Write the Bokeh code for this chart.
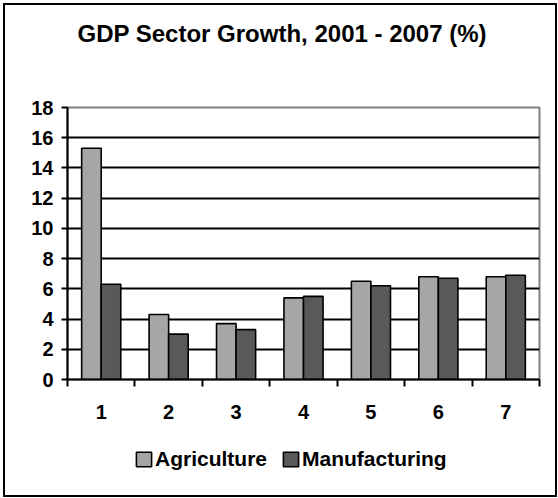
from bokeh.plotting import figure
from bokeh.layouts import column
from bokeh.models import Range1d, FixedTicker, Legend, LegendItem, ColumnDataSource
from bokeh.transform import dodge
from bokeh.embed import file_html
from bokeh.resources import INLINE

# ---- data ----
categories = [1, 2, 3, 4, 5, 6, 7]
agriculture = [15.3, 4.3, 3.7, 5.4, 6.5, 6.8, 6.8]
manufacturing = [6.3, 3.0, 3.3, 5.5, 6.2, 6.7, 6.9]
y_ticks = [0, 2, 4, 6, 8, 10, 12, 14, 16, 18]
series_names = ["Agriculture", "Manufacturing"]
series_colors = ["#A6A6A6", "#595959"]
title_text = "GDP Sector Growth, 2001 - 2007 (%)"

FONT = "Liberation Sans"
ML, MR = 62, 16

src = ColumnDataSource(dict(x=categories, ag=agriculture, mf=manufacturing))

# ---- title strip ----
p0 = figure(width=550, height=55, output_backend="svg", toolbar_location=None,
            x_range=Range1d(0, 1), y_range=Range1d(0, 1),
            min_border_left=ML, min_border_right=MR, min_border_top=41,
            min_border_bottom=0, outline_line_color=None)
p0.axis.visible = False
p0.grid.visible = False
p0.title.text = title_text
p0.title.text_font = FONT
p0.title.text_font_style = "bold"
p0.title.text_font_size = "24px"
p0.title.text_color = "black"
p0.title.align = "left"
p0.title.offset = 10
p0.title.standoff = 0

# ---- main chart ----
p = figure(width=550, height=370, output_backend="svg", toolbar_location=None,
           x_range=Range1d(0.5, 7.5), y_range=Range1d(0, 18),
           min_border_left=ML, min_border_right=MR, min_border_top=47,
           min_border_bottom=51)

bw = 0.29
r_ag = p.vbar(x=dodge("x", -bw / 2, range=p.x_range), top="ag", width=bw, source=src,
              fill_color=series_colors[0], line_color="black", line_width=1.6)
r_mf = p.vbar(x=dodge("x", bw / 2, range=p.x_range), top="mf", width=bw, source=src,
              fill_color=series_colors[1], line_color="black", line_width=1.6)

p.outline_line_color = "#808080"
p.outline_line_width = 2
p.xgrid.visible = False
p.ygrid.ticker = FixedTicker(ticks=y_ticks[1:-1])
p.ygrid.grid_line_color = "black"
p.ygrid.grid_line_width = 2

ya = p.yaxis[0]
ya.ticker = FixedTicker(ticks=y_ticks)
ya.axis_line_color = "black"
ya.axis_line_width = 2
ya.major_tick_out = 6
ya.major_tick_in = 0
ya.major_tick_line_width = 2
ya.minor_tick_line_color = None
ya.major_label_standoff = 8
ya.major_label_text_font = FONT
ya.major_label_text_font_style = "bold"
ya.major_label_text_font_size = "20px"
ya.major_label_text_color = "black"

xa = p.xaxis[0]
xa.ticker = FixedTicker(ticks=categories, minor_ticks=[c - 0.5 for c in categories] + [categories[-1] + 0.5])
xa.axis_line_color = "black"
xa.axis_line_width = 2
xa.major_tick_out = 0
xa.major_tick_in = 0
xa.minor_tick_out = 7
xa.minor_tick_in = 0
xa.minor_tick_line_width = 2
xa.minor_tick_line_color = "black"
xa.major_label_standoff = 18
xa.major_label_text_font = FONT
xa.major_label_text_font_style = "bold"
xa.major_label_text_font_size = "20px"
xa.major_label_text_color = "black"

# ---- legend strip (separate figure; its renderers are hidden, only the legend shows) ----
p2 = figure(width=550, height=65, output_backend="svg", toolbar_location=None,
            x_range=Range1d(0.5, 7.5), y_range=Range1d(0, 18),
            min_border_left=ML, min_border_right=MR, min_border_top=0,
            min_border_bottom=0, outline_line_color=None)
p2.axis.visible = False
p2.grid.visible = False
l_ag = p2.vbar(x="x", top="ag", width=bw, source=src, visible=False,
               fill_color=series_colors[0], line_color="black", line_width=1.6)
l_mf = p2.vbar(x="x", top="mf", width=bw, source=src, visible=False,
               fill_color=series_colors[1], line_color="black", line_width=1.6)

legend = Legend(items=[LegendItem(label=series_names[0], renderers=[l_ag]),
                       LegendItem(label=series_names[1], renderers=[l_mf])],
                orientation="horizontal", location=(67, 24), click_policy="none",
                inactive_fill_alpha=0,
                label_text_font=FONT, label_text_font_style="bold",
                label_text_font_size="21px", label_text_color="black",
                glyph_width=19, glyph_height=18, label_standoff=2, spacing=14,
                padding=0, margin=0, border_line_alpha=0, background_fill_alpha=0)
p2.add_layout(legend, "center")

layout = column(p0, p, p2, margin=(3, 0, 0, 3), styles={"border": "2px solid black"})

open("out.html", "w").write(file_html(layout, INLINE))
